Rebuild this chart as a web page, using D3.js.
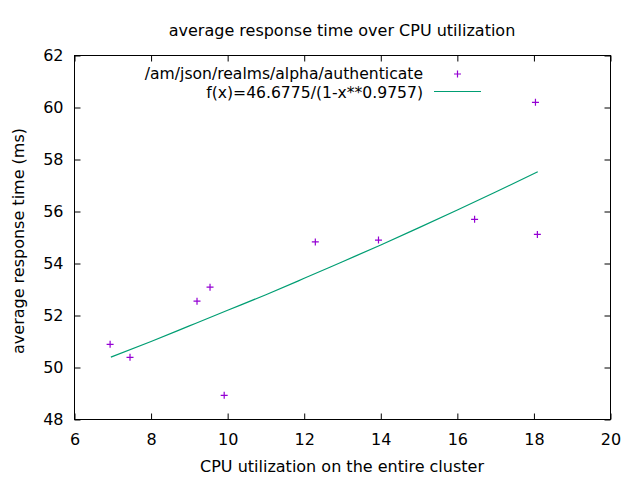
<!DOCTYPE html>
<html lang="en">
  <head>
    <meta charset="UTF-8" />
    <script src="https://d3js.org/d3.v7.min.js"></script>
    <title>average response time over CPU utilization</title>
    <style>
      body { margin: 0; background: #fff; }
      text { font-family: "DejaVu Sans", sans-serif; font-size: 16px; fill: #000; }
      .legend { font-size: 15.6px; }
    </style>
  </head>
  <body>
    <svg id="chart" width="640" height="480"></svg>
    <script>
      // measured points
      const cpuUtil = [6.93, 7.45, 9.2, 9.54, 9.91, 12.29, 13.94, 16.45, 18.04, 18.09];
      const respTime = [50.89, 50.39, 52.55, 53.09, 48.93, 54.83, 54.9, 55.7, 60.2, 55.12];

      // fitted curve
      const fitX = [6.95, 8, 9, 10, 11, 12, 13, 14, 15, 16, 17, 18.1];
      const fitY = [50.4, 51.0, 51.6, 52.2, 52.8, 53.43, 54.07, 54.71, 55.38, 56.06, 56.75, 57.53];

      const xTicks = [6, 8, 10, 12, 14, 16, 18, 20];
      const yTicks = [48, 50, 52, 54, 56, 58, 60, 62];

      const mLeft = 74.5, mRight = 610.5, mTop = 55.5, mBottom = 419.5;
      const svg = d3.select("#chart");

      const x = d3.scaleLinear().domain([6, 20]).range([mLeft, mRight]);
      const y = d3.scaleLinear().domain([48, 62]).range([mBottom, mTop]);

      // axes (ticks inside, mirrored)
      const tick = 6;
      svg.append("g")
        .attr("transform", `translate(0,${mBottom})`)
        .call(d3.axisBottom(x).tickValues(xTicks).tickSizeInner(-tick).tickSizeOuter(0).tickPadding(14))
        .call(g => g.select(".domain").remove());
      svg.append("g")
        .attr("transform", `translate(0,${mTop})`)
        .call(d3.axisTop(x).tickValues(xTicks).tickSizeInner(-tick).tickSizeOuter(0).tickFormat(""))
        .call(g => g.select(".domain").remove());
      svg.append("g")
        .attr("transform", `translate(${mLeft},0)`)
        .call(d3.axisLeft(y).tickValues(yTicks).tickSizeInner(-tick).tickSizeOuter(0).tickPadding(11))
        .call(g => g.select(".domain").remove());
      svg.append("g")
        .attr("transform", `translate(${mRight},0)`)
        .call(d3.axisRight(y).tickValues(yTicks).tickSizeInner(-tick).tickSizeOuter(0).tickFormat(""))
        .call(g => g.select(".domain").remove());

      svg.selectAll(".tick text").style("font-family", "DejaVu Sans").style("font-size", "16px");
      svg.selectAll(".tick line").attr("stroke", "#000");

      svg.append("rect")
        .attr("x", mLeft).attr("y", mTop)
        .attr("width", mRight - mLeft).attr("height", mBottom - mTop)
        .attr("fill", "none").attr("stroke", "#000");

      // fitted line
      const line = d3.line().x(d => x(d[0])).y(d => y(d[1])).curve(d3.curveMonotoneX);
      svg.append("path")
        .datum(fitX.map((v, i) => [v, fitY[i]]))
        .attr("d", line)
        .attr("fill", "none")
        .attr("stroke", "#009e73")
        .attr("stroke-width", 1.2);

      // points
      function drawPlus(g, px, py) {
        g.append("path")
          .attr("d", `M${px - 3.5},${py}H${px + 3.5}M${px},${py - 3.5}V${py + 3.5}`)
          .attr("stroke", "#9400d3").attr("stroke-width", 1.2).attr("fill", "none");
      }
      const pts = svg.append("g");
      cpuUtil.forEach((v, i) => drawPlus(pts, x(v), y(respTime[i])));

      // legend
      svg.append("text").attr("class", "legend").attr("x", 423).attr("y", 79).attr("text-anchor", "end")
        .text("/am/json/realms/alpha/authenticate");
      drawPlus(svg, 457.5, 74);
      svg.append("text").attr("class", "legend").attr("x", 423).attr("y", 97.5).attr("text-anchor", "end")
        .text("f(x)=46.6775/(1-x**0.9757)");
      svg.append("line").attr("x1", 434).attr("x2", 481).attr("y1", 91.5).attr("y2", 91.5)
        .attr("stroke", "#009e73").attr("stroke-width", 1.2);

      // titles
      svg.append("text").attr("x", 342).attr("y", 36).attr("text-anchor", "middle")
        .text("average response time over CPU utilization");
      svg.append("text").attr("x", 342).attr("y", 472).attr("text-anchor", "middle")
        .text("CPU utilization on the entire cluster");
      svg.append("text")
        .attr("transform", "translate(24,241) rotate(-90)")
        .attr("text-anchor", "middle")
        .text("average response time (ms)");
    </script>
  </body>
</html>
